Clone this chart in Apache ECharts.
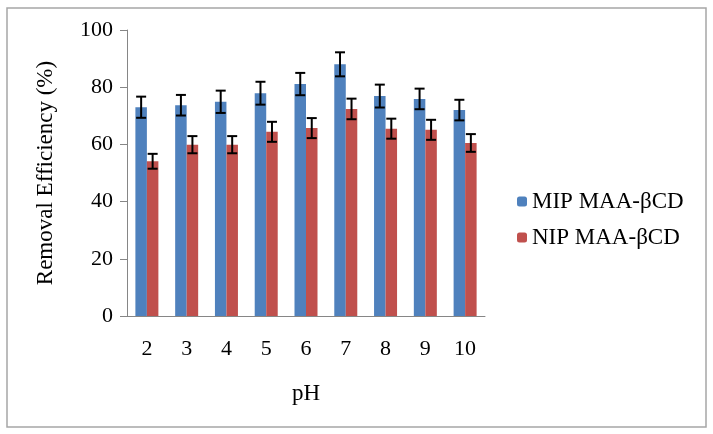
<!DOCTYPE html>
<html><head><meta charset="utf-8">
<script src="https://cdn.jsdelivr.net/npm/echarts@6/dist/echarts.min.js"></script>
<style>html,body{margin:0;padding:0;background:#fff}#c{width:713px;height:434px}</style>
</head><body><div id="c"></div>
<script>
var categories = ['2','3','4','5','6','7','8','9','10'];
var mipValues = [73.0, 73.7, 74.9, 77.9, 81.1, 88.0, 76.9, 75.9, 72.0];
var mipErrors = [3.7, 3.6, 3.9, 4.0, 3.9, 4.2, 4.0, 3.6, 3.6];
var nipValues = [54.1, 59.9, 59.9, 64.4, 65.7, 72.4, 65.5, 65.1, 60.5];
var nipErrors = [2.6, 3.0, 3.0, 3.5, 3.5, 3.6, 3.5, 3.5, 3.1];
var yTicks = [0, 20, 40, 60, 80, 100];

var BAR_W = 11.5;
var font = 'Liberation Serif';
var chart = echarts.init(document.getElementById('c'));

function errSeries(values, errors, offsetSign) {
  var data = values.map(function (v, i) { return [i, v, errors[i]]; });
  return {
    type: 'custom',
    silent: true,
    z: 10,
    renderItem: function (params, api) {
      var idx = api.value(0), v = api.value(1), e = api.value(2);
      var top = api.coord([idx, v + e]);
      var bot = api.coord([idx, v - e]);
      var x = top[0] + offsetSign * BAR_W / 2;
      var cap = 5;
      var st = { stroke: '#000', lineWidth: 2 };
      return {
        type: 'group',
        children: [
          { type: 'line', shape: { x1: x, y1: top[1], x2: x, y2: bot[1] }, style: st },
          { type: 'line', shape: { x1: x - cap, y1: top[1], x2: x + cap, y2: top[1] }, style: st },
          { type: 'line', shape: { x1: x - cap, y1: bot[1], x2: x + cap, y2: bot[1] }, style: st }
        ]
      };
    },
    data: data
  };
}

chart.setOption({
  animation: false,
  backgroundColor: '#fff',
  graphic: [{
    type: 'rect', shape: { x: 7, y: 8, width: 699, height: 419 },
    style: { fill: 'none', stroke: '#a6a6a6', lineWidth: 1.5 }, z: -1
  }],
  grid: { left: 127, right: 228, top: 30, bottom: 118 },
  legend: {
    orient: 'vertical', left: 512, top: 185, itemWidth: 10, itemHeight: 10, itemGap: 13,
    textStyle: { fontFamily: font, fontSize: 23, color: '#000', padding: [0, 0, 0, 0] },
    data: ['MIP MAA-βCD', 'NIP MAA-βCD']
  },
  xAxis: {
    type: 'category', data: categories,
    name: 'pH', nameLocation: 'middle', nameGap: 66,
    nameTextStyle: { fontFamily: font, fontSize: 23, color: '#000' },
    axisLine: { lineStyle: { color: '#868686', width: 1 } },
    axisTick: { length: 7, lineStyle: { color: '#868686' } },
    axisLabel: { fontFamily: font, fontSize: 22, color: '#000', margin: 22 }
  },
  yAxis: {
    type: 'value', min: 0, max: 100, interval: 20,
    name: 'Removal Efficiency (%)', nameLocation: 'middle', nameGap: 70,
    nameTextStyle: { fontFamily: font, fontSize: 23, color: '#000' },
    axisLine: { show: true, lineStyle: { color: '#868686', width: 1 } },
    axisTick: { show: true, length: 7, lineStyle: { color: '#868686' } },
    splitLine: { show: false },
    axisLabel: { fontFamily: font, fontSize: 22, color: '#000', margin: 14,
      formatter: function (v) { return yTicks.indexOf(v) >= 0 ? String(v) : ''; } }
  },
  series: [
    { name: 'MIP MAA-βCD', type: 'bar', data: mipValues, barWidth: BAR_W, barGap: '0%', itemStyle: { color: '#4F81BD' } },
    { name: 'NIP MAA-βCD', type: 'bar', data: nipValues, barWidth: BAR_W, barGap: '0%', itemStyle: { color: '#C0504D' } },
    errSeries(mipValues, mipErrors, -1),
    errSeries(nipValues, nipErrors, 1)
  ]
});
</script></body></html>
